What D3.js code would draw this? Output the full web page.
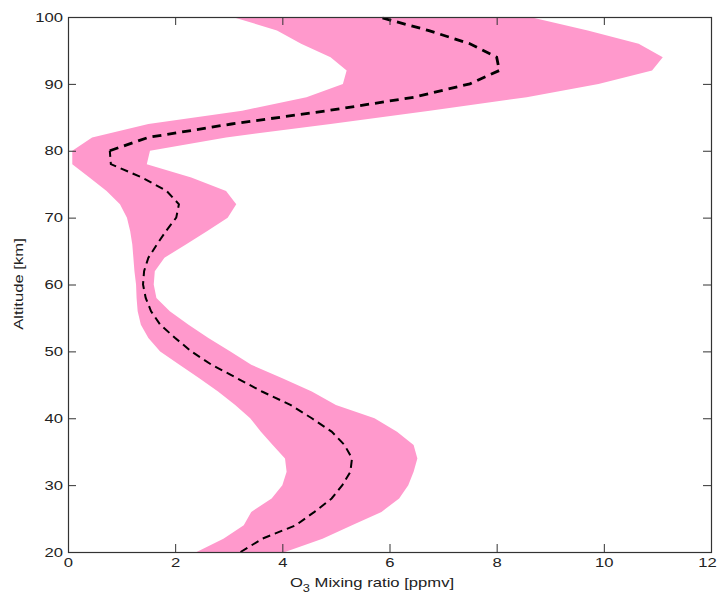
<!DOCTYPE html>
<html>
<head>
<meta charset="utf-8">
<script src="https://cdn.jsdelivr.net/npm/d3@7"></script>
<style>
  body { margin: 0; background: #fff; }
  svg text { font-family: "Liberation Sans", Arial, sans-serif; font-size: 13px; fill: #222; }
</style>
</head>
<body>
<div id="chart"></div>
<script>
// altitude grid [km] and O3 mixing ratio [ppmv]
var altitude = [20, 22, 24, 26, 28, 30, 32, 34, 36, 38, 40, 42, 44, 46, 48, 50, 52, 54, 56, 58,
                60, 62, 64, 66, 68, 70, 72, 74, 76, 78, 80, 82, 84, 86, 88, 90, 92, 94, 96, 98, 100];
var meanO3 = [3.22, 3.63, 4.25, 4.6, 4.92, 5.12, 5.27, 5.3, 5.16, 4.92, 4.55, 4.15, 3.62, 3.15, 2.68, 2.3, 2.0, 1.72, 1.55, 1.45,
              1.4, 1.42, 1.5, 1.66, 1.83, 2.02, 2.07, 1.84, 1.38, 0.8, 0.78, 1.5, 3.05, 4.85, 6.45, 7.5, 8.05, 8.0, 7.5, 6.72, 5.8];
var lowerO3 = [2.4, 2.9, 3.28, 3.42, 3.8, 4.0, 4.08, 4.05, 3.82, 3.6, 3.4, 3.12, 2.8, 2.45, 2.08, 1.72, 1.5, 1.36, 1.3, 1.28,
               1.27, 1.24, 1.22, 1.2, 1.16, 1.1, 0.97, 0.72, 0.4, 0.08, 0.08, 0.45, 1.5, 3.25, 4.45, 5.13, 5.2, 4.9, 4.35, 3.9, 3.07];
var upperO3 = [4.05, 4.75, 5.3, 5.85, 6.18, 6.35, 6.45, 6.52, 6.45, 6.14, 5.72, 5.0, 4.55, 4.0, 3.42, 3.03, 2.62, 2.25, 1.9, 1.65,
               1.6, 1.62, 1.8, 2.2, 2.6, 2.98, 3.14, 2.95, 2.3, 1.47, 1.53, 2.95, 4.9, 6.75, 8.56, 9.9, 10.9, 11.1, 10.65, 9.7, 8.62];

var xTicks = [0, 2, 4, 6, 8, 10, 12];
var yTicks = [20, 30, 40, 50, 60, 70, 80, 90, 100];

var width = 718, height = 597;
var margin = {top: 17, right: 7, bottom: 45, left: 68};
var w = width - margin.left - margin.right,
    h = height - margin.top - margin.bottom;
var sx = 1.28; // the original font is wider than Arial

var data = altitude.map(function(a, i) {
  return {alt: a, mean: meanO3[i], lo: lowerO3[i], hi: upperO3[i]};
});

var svg = d3.select('#chart').append('svg')
    .attr('width', width)
    .attr('height', height);

svg.append('rect').attr('width', width).attr('height', height).attr('fill', '#fff');

var g = svg.append('g').attr('transform', 'translate(' + margin.left + ',' + margin.top + ')');

var x = d3.scaleLinear().domain([0, 12]).range([0, w]);
var y = d3.scaleLinear().domain([20, 100]).range([h, 0]);

var area = d3.area()
    .y(function(d) { return y(d.alt); })
    .x0(function(d) { return x(d.lo); })
    .x1(function(d) { return x(d.hi); });

g.append('path')
    .datum(data)
    .attr('fill', '#ff99cc')
    .attr('d', area);

var line = d3.line()
    .x(function(d) { return x(d.mean); })
    .y(function(d) { return y(d.alt); });

g.append('path')
    .datum(data.filter(function(d) { return d.alt <= 80; }))
    .attr('fill', 'none')
    .attr('stroke', '#000')
    .attr('stroke-width', 2)
    .attr('stroke-dasharray', '8,5')
    .attr('d', line);

g.append('path')
    .datum(data.filter(function(d) { return d.alt >= 80; }))
    .attr('fill', 'none')
    .attr('stroke', '#000')
    .attr('stroke-width', 2.8)
    .attr('stroke-dasharray', '9,6')
    .attr('d', line);

// axes with inward ticks on all four sides
function styleAxis(sel) {
  sel.select('.domain').remove();
  sel.selectAll('.tick line').attr('stroke', '#333');
}

var xAxis = g.append('g')
    .attr('transform', 'translate(0,' + h + ')')
    .call(d3.axisBottom(x).tickValues(xTicks).tickSizeInner(-8).tickSizeOuter(0).tickPadding(6))
    .call(styleAxis);
xAxis.selectAll('text')
    .attr('x', function(d) { return d === 12 ? -4 / sx : 0; })
    .attr('transform', 'scale(' + sx + ',1)');

var yAxis = g.append('g')
    .call(d3.axisLeft(y).tickValues(yTicks).tickSizeInner(-8).tickSizeOuter(0).tickPadding(5))
    .call(styleAxis);
yAxis.selectAll('text')
    .attr('x', -5 / sx)
    .attr('transform', 'scale(' + sx + ',1)');

g.append('g')
    .call(d3.axisTop(x).tickValues(xTicks).tickSizeInner(-8).tickSizeOuter(0).tickFormat(''))
    .call(styleAxis);

g.append('g')
    .attr('transform', 'translate(' + w + ',0)')
    .call(d3.axisRight(y).tickValues(yTicks).tickSizeInner(-8).tickSizeOuter(0).tickFormat(''))
    .call(styleAxis);

g.selectAll('.tick text').attr('font-size', 13).attr('font-family', '"Liberation Sans", Arial, sans-serif').attr('fill', '#222');

g.append('rect')
    .attr('x', 0.5).attr('y', 0.5)
    .attr('width', w).attr('height', h)
    .attr('fill', 'none')
    .attr('stroke', '#333')
    .attr('stroke-width', 1.2);

// axis labels
var xl = svg.append('text')
    .attr('transform', 'translate(372,587) scale(' + sx + ',1)')
    .attr('text-anchor', 'middle');
xl.append('tspan').text('O');
xl.append('tspan').attr('font-size', 10).attr('dy', 5).text('3');
xl.append('tspan').attr('dy', -5).text(' Mixing ratio [ppmv]');

svg.append('text')
    .attr('transform', 'translate(23,284) rotate(-90) scale(' + sx + ',1)')
    .attr('text-anchor', 'middle')
    .text('Altitude [km]');
</script>
</body>
</html>
